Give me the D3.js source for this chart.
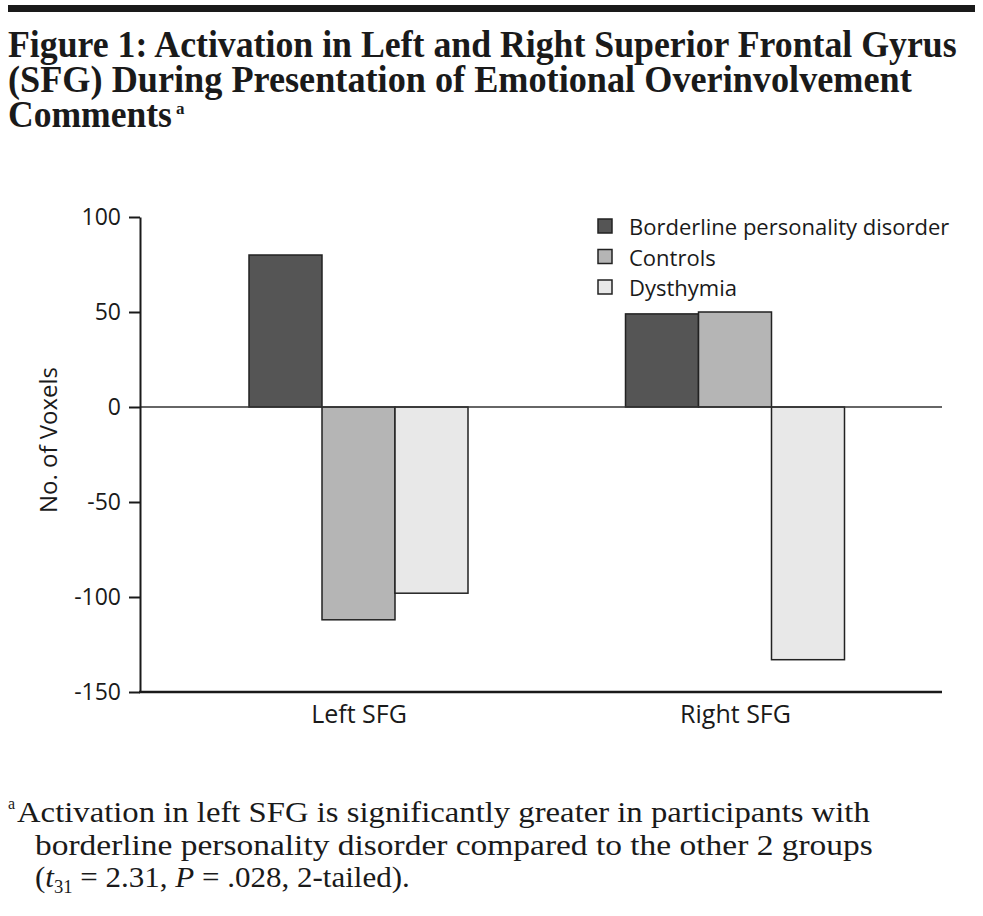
<!DOCTYPE html>
<html>
<head>
<meta charset="utf-8">
<script src="https://cdn.jsdelivr.net/npm/d3@7"></script>
<style>
  body { margin: 0; background: #fff; }
  svg { display: block; }
</style>
</head>
<body>
<svg id="chart"></svg>
<script>
// values
const categories = ["Left SFG", "Right SFG"];
const groups = ["Borderline personality disorder", "Controls", "Dysthymia"];
const bpd = [80, 49];
const controls = [-112, 50];
const dysthymia = [-98, -133];
const yTicks = [100, 50, 0, -50, -100, -150];

const titleLines = [
  "Figure 1: Activation in Left and Right Superior Frontal Gyrus",
  "(SFG) During Presentation of Emotional Overinvolvement",
  "Comments"
];
const noteLines = [
  "Activation in left SFG is significantly greater in participants with",
  "borderline personality disorder compared to the other 2 groups"
];

var width = 983, height = 916;
var margin = ({top: 217, right: 41, bottom: 224, left: 140});
var serif = "'Liberation Serif', Tinos, 'Times New Roman', serif";
var sans = "'Open Sans', 'Noto Sans', sans-serif";

const svg = d3.select("#chart").attr("width", width).attr("height", height);

var colors = new Map().set(groups[0], "#555555")
                      .set(groups[1], "#b5b5b5")
                      .set(groups[2], "#e8e8e8");

var data = categories.map((c, i) => ({
  name: c,
  values: [bpd[i], controls[i], dysthymia[i]].map((v, j) => ({key: groups[j], value: v}))
}));

// squeeze a line of text horizontally so it spans w pixels (the original face is condensed)
function fitLine(x, y, w) {
  var g = svg.append("g");
  var t = g.append("text").attr("fill", "#1a1a1a").attr("font-family", serif);
  return {g: g, t: t, done: () => {
    var sx = w / t.node().getComputedTextLength();
    g.attr("transform", `translate(${x},${y}) scale(${sx},1)`);
  }};
}

// header rule + title
svg.append("rect").attr("x", 8).attr("y", 5).attr("width", 967).attr("height", 7).attr("fill", "#1a1a1a");

var titleWidths = [949, 904, 164];
titleLines.forEach((s, i) => {
  var l = fitLine(8, 57 + i * 35, titleWidths[i]);
  l.t.attr("font-weight", "bold").attr("font-size", 37).text(s);
  l.done();
});
svg.append("text").attr("x", 176).attr("y", 114)
  .attr("font-family", serif).attr("font-weight", "bold")
  .attr("font-size", 17).attr("fill", "#1a1a1a").text("a");

// scales
var y = d3.scaleLinear()
  .domain([-150, 100])
  .range([height - margin.bottom, margin.top]);

var x0 = d3.scalePoint()
  .domain(categories)
  .range([358.5, 735]);

var x1 = d3.scaleBand()
  .domain(groups)
  .range([-109.5, 109.5])
  .padding(0);

// bars
svg.append("g")
  .selectAll("g")
  .data(data)
  .join("g")
    .attr("transform", d => `translate(${x0(d.name)},0)`)
  .selectAll("rect")
  .data(d => d.values)
  .join("rect")
    .attr("x", d => x1(d.key))
    .attr("y", d => y(Math.max(0, d.value)))
    .attr("width", x1.bandwidth())
    .attr("height", d => Math.abs(y(d.value) - y(0)))
    .attr("fill", d => colors.get(d.key))
    .attr("stroke", "#222")
    .attr("stroke-width", 1.5);

// zero line
svg.append("line")
  .attr("x1", margin.left).attr("x2", width - margin.right)
  .attr("y1", y(0)).attr("y2", y(0))
  .attr("stroke", "#333").attr("stroke-width", 1.5);

// y axis
svg.append("g")
  .attr("transform", `translate(${margin.left},0)`)
  .call(d3.axisLeft(y).tickValues(yTicks).tickSize(11).tickSizeOuter(0).tickPadding(8).tickFormat(d => String(d)))
  .call(g => g.selectAll("path, line").attr("stroke", "#1a1a1a").attr("stroke-width", 2))
  .call(g => g.selectAll("text").attr("font-family", sans).attr("font-size", 23).attr("fill", "#1a1a1a"));

// x axis
svg.append("line")
  .attr("x1", margin.left - 1).attr("x2", width - margin.right)
  .attr("y1", y(-150)).attr("y2", y(-150))
  .attr("stroke", "#1a1a1a").attr("stroke-width", 2.5);

svg.append("g")
  .attr("transform", `translate(0,${y(-150)})`)
  .call(d3.axisBottom(x0).tickSize(0).tickPadding(13))
  .call(g => g.select(".domain").remove())
  .call(g => g.selectAll("text").attr("font-family", sans).attr("font-size", 25).attr("fill", "#1a1a1a"));

// y label
svg.append("text")
  .attr("transform", `translate(57,440) rotate(-90)`)
  .attr("text-anchor", "middle")
  .attr("font-family", sans).attr("font-size", 24).attr("fill", "#1a1a1a")
  .text("No. of Voxels");

// legend
var legend = svg.append("g").attr("transform", "translate(598,219)");
groups.forEach((g, i) => {
  legend.append("rect")
    .attr("x", 0).attr("y", i * 30.5)
    .attr("width", 14).attr("height", 14)
    .attr("fill", colors.get(g)).attr("stroke", "#222").attr("stroke-width", 1.5);
  legend.append("text")
    .attr("x", 31).attr("y", i * 30.5 + 7)
    .attr("dominant-baseline", "central")
    .attr("font-family", sans).attr("font-size", 22).attr("fill", "#1a1a1a")
    .text(g);
});

// footnote
svg.append("text").attr("x", 8).attr("y", 809)
  .attr("font-family", serif).attr("font-size", 16).attr("fill", "#1a1a1a").text("a");

var n1 = fitLine(17, 822, 853);
n1.t.attr("font-size", 30).text(noteLines[0]);
n1.done();
var n2 = fitLine(35, 855, 838);
n2.t.attr("font-size", 30).text(noteLines[1]);
n2.done();

var n3 = fitLine(35, 887, 375);
var last = n3.t.attr("font-size", 30);
last.append("tspan").text("(");
last.append("tspan").attr("font-style", "italic").text("t");
last.append("tspan").attr("font-size", 18).attr("dy", 6).text("31");
last.append("tspan").attr("dy", -6).text(" = 2.31, ");
last.append("tspan").attr("font-style", "italic").text("P");
last.append("tspan").text(" = .028, 2-tailed).");
n3.done();
</script>
</body>
</html>
